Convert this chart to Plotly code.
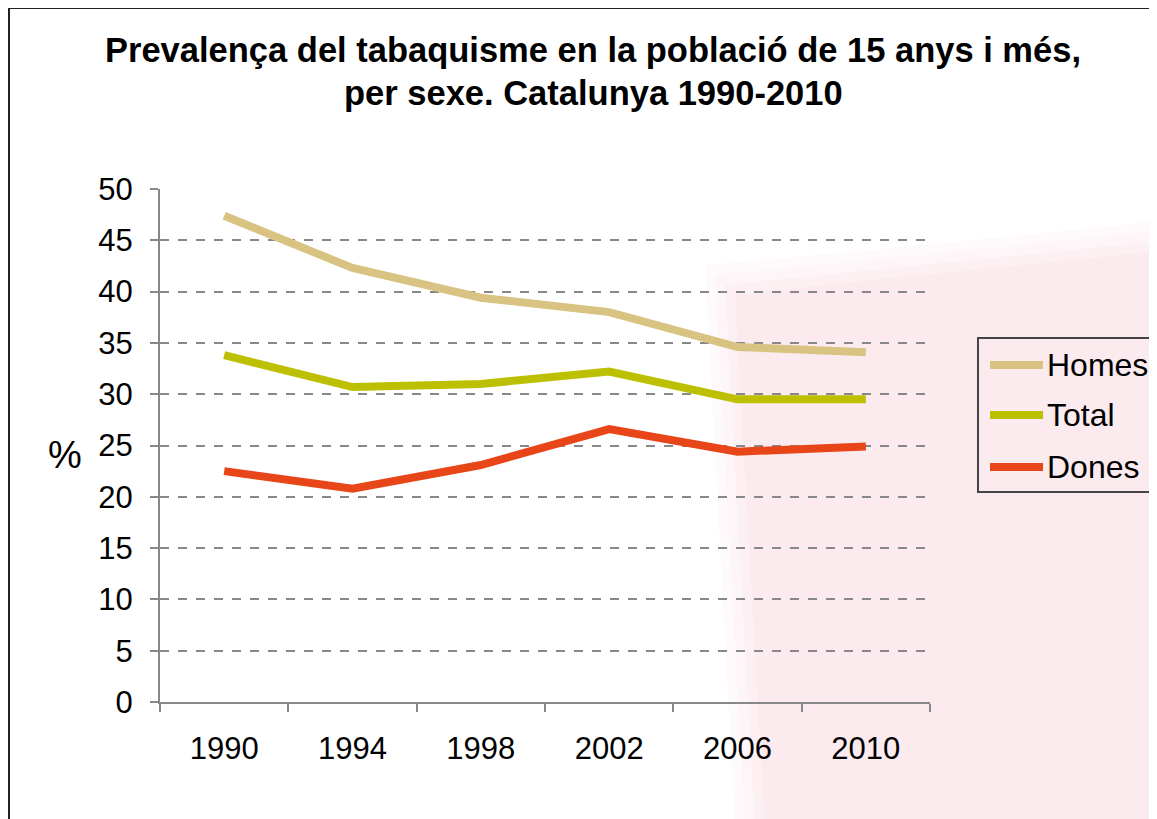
import plotly.graph_objects as go

years = ["1990", "1994", "1998", "2002", "2006", "2010"]
homes = [47.4, 42.3, 39.4, 38.0, 34.6, 34.1]
total = [33.8, 30.7, 31.0, 32.2, 29.5, 29.5]
dones = [22.5, 20.8, 23.1, 26.6, 24.4, 24.9]

series = [("Homes", homes, "#D9C383"), ("Total", total, "#BDC000"), ("Dones", dones, "#E84518")]

W, H = 1157, 819
OFF = 8  # page body margin
# plot area in page pixels
PL, PR, PT, PB = 160, 930, 189, 702
L, R, T, B = PL - OFF, PR - OFF, PT - OFF, PB - OFF


def px(x):
    return (x - PL) / (PR - PL)


def py(y):
    return (PB - y) / (PB - PT)


fig = go.Figure()
for name, vals, col in series:
    fig.add_trace(go.Scatter(x=years, y=vals, name=name, mode="lines",
                             line=dict(color=col, width=8), showlegend=False))

shapes = []
# soft faint watermark (layered for softer edges)
for d in (0, 10, 20, 30):
    shapes.append(dict(type="path", xref="paper", yref="paper", layer="below",
                       path=f"M {px(705 + d)} {py(265 + d)} L {px(870)} {py(250 + d)} L {px(1170)} {py(220 + d)} "
                            f"L {px(1170)} {py(830)} L {px(735 + d)} {py(830)} Z",
                       fillcolor="rgba(232,150,165,0.045)", line=dict(width=0)))
# outer border
shapes.append(dict(type="rect", xref="paper", yref="paper",
                   x0=px(9), x1=px(1185), y0=py(840), y1=py(8),
                   line=dict(color="#222", width=2), fillcolor="rgba(0,0,0,0)"))
# legend box
shapes.append(dict(type="rect", xref="paper", yref="paper",
                   x0=px(978), x1=px(1165), y0=py(492), y1=py(338),
                   line=dict(color="#444", width=2), fillcolor="rgba(0,0,0,0)"))

annotations = [
    dict(text="<b>Prevalença del tabaquisme en la població de 15 anys i més,</b>",
         x=px(593), y=py(50), xref="paper", yref="paper", showarrow=False,
         xanchor="center", yanchor="middle", font=dict(size=34.5)),
    dict(text="<b>per sexe. Catalunya 1990-2010</b>",
         x=px(593), y=py(93), xref="paper", yref="paper", showarrow=False,
         xanchor="center", yanchor="middle", font=dict(size=34.5)),
    dict(text="%", x=px(65), y=py(455), xref="paper", yref="paper", showarrow=False,
         xanchor="center", yanchor="middle", font=dict(size=38)),
]

leg_y = [365, 415, 467]
for (name, vals, col), ly in zip(series, leg_y):
    shapes.append(dict(type="line", xref="paper", yref="paper",
                       x0=px(990), x1=px(1043), y0=py(ly), y1=py(ly),
                       line=dict(color=col, width=8)))
    annotations.append(dict(text=name, x=px(1045), y=py(ly), xref="paper", yref="paper",
                            showarrow=False, xanchor="left", yanchor="middle",
                            font=dict(size=32)))

fig.update_layout(
    width=W, height=H,
    margin=dict(l=L, r=W - R, t=T, b=H - B),
    paper_bgcolor="white", plot_bgcolor="rgba(0,0,0,0)",
    font=dict(family="Arial, Liberation Sans, sans-serif", color="black", size=30),
    showlegend=False,
    shapes=shapes,
    annotations=annotations,
)

fig.update_xaxes(type="category", range=[-0.5, 5.5], showline=True, linecolor="#888", linewidth=2,
                 ticks="outside", tickson="boundaries", ticklen=8, tickcolor="#888", tickwidth=2,
                 showgrid=False, zeroline=False, ticklabelstandoff=18, tickfont=dict(size=31))
fig.update_yaxes(range=[0, 50], dtick=5, showline=True, linecolor="#888", linewidth=2,
                 ticks="outside", ticklen=8, tickcolor="#888", tickwidth=2,
                 showgrid=True, gridcolor="#888", griddash="dash", gridwidth=1.5,
                 zeroline=False, ticklabelstandoff=11, tickfont=dict(size=31))

fig.write_html("out.html")
